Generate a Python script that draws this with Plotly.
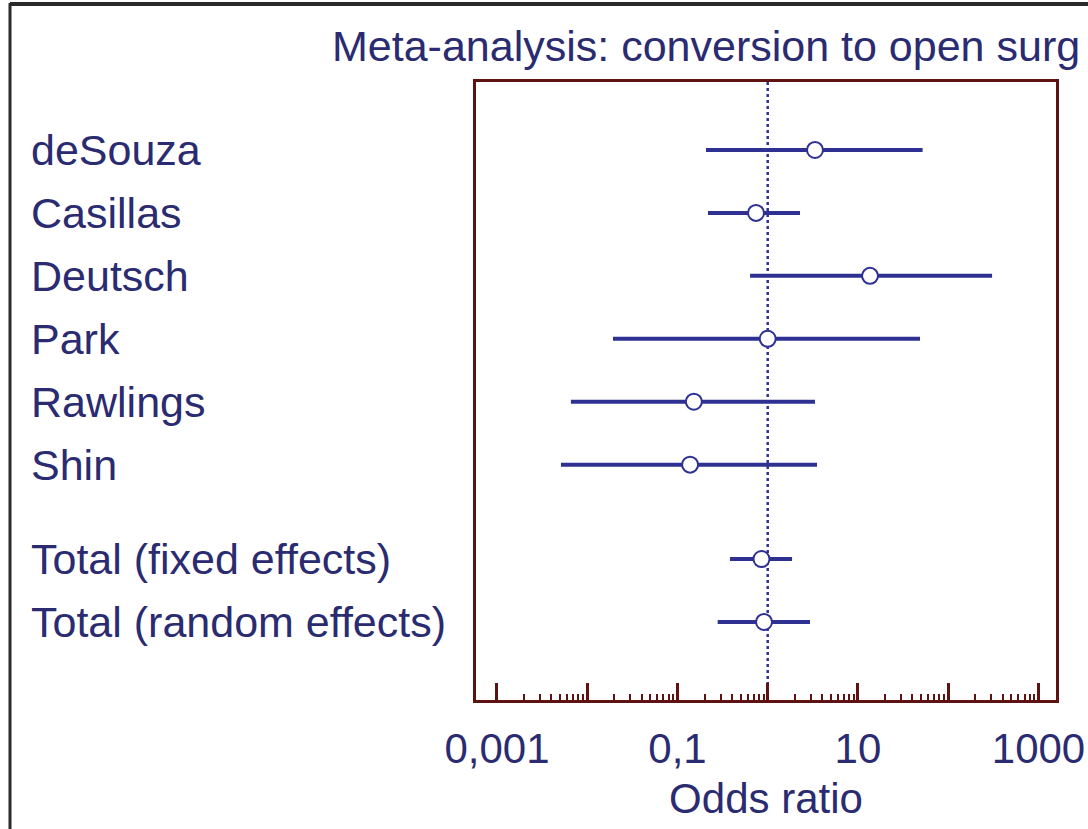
import plotly.graph_objects as go

# ---- data ----
studies = ["deSouza", "Casillas", "Deutsch", "Park", "Rawlings", "Shin",
           "Total (fixed effects)", "Total (random effects)"]
odds_ratio = [3.34, 0.742, 13.6, 1.0, 0.152, 0.138, 0.853, 0.91]
ci_low = [0.207, 0.218, 0.637, 0.0193, 0.0066, 0.00512, 0.382, 0.279]
ci_high = [52.0, 2.28, 306.0, 48.7, 3.34, 3.52, 1.86, 2.94]
tick_values = [0.001, 0.01, 0.1, 1, 10, 100, 1000]
tick_labels = ["0,001", "", "0,1", "", "10", "", "1000"]
null_value = 1
title_text = "Meta-analysis: conversion to open surg"
x_title = "Odds ratio"

# ---- layout constants ----
W, H = 1088, 829
L, R, T, B = 476, 32, 82, 129
PW, PH = W - L - R, H - T - B
BLUE = "#2e3192"
TEXT = "#2a2b70"
FRAME = "#5e1212"
FONT = "Liberation Sans, Arial, sans-serif"

# row positions: studies 1..6, totals after a half-row gap
n_studies = 6
rows = [i + 1 if i < n_studies else i + 1.5 for i in range(len(studies))]
y_top, y_bot = -0.08, 9.74

fig = go.Figure()

# dotted line of no effect
fig.add_trace(go.Scatter(x=[null_value, null_value], y=[y_top, y_bot], mode="lines",
                         line=dict(color=BLUE, width=2.5, dash="dot"),
                         hoverinfo="skip", showlegend=False))

# confidence intervals
xs, ys = [], []
for lo, hi, r in zip(ci_low, ci_high, rows):
    xs += [lo, hi, None]
    ys += [r, r, None]
fig.add_trace(go.Scatter(x=xs, y=ys, mode="lines",
                         line=dict(color=BLUE, width=4),
                         hoverinfo="skip", showlegend=False))

# point estimates
fig.add_trace(go.Scatter(x=odds_ratio, y=rows, mode="markers",
                         marker=dict(symbol="circle", size=16, color="white",
                                     line=dict(color=BLUE, width=2)),
                         text=studies, showlegend=False))

# minor ticks at 2..9 of each decade
minor_vals = [m * d for d in tick_values[:-1] for m in range(2, 10)]

fig.update_xaxes(type="log", range=[-3.232, 3.194],
                 tickmode="array", tickvals=tick_values, ticktext=tick_labels,
                 ticks="inside", ticklen=17, tickwidth=2.5, tickcolor=FRAME,
                 ticklabelstandoff=10,
                 minor=dict(tickmode="array", tickvals=minor_vals, ticks="inside",
                            ticklen=6, tickwidth=2, tickcolor=FRAME, showgrid=False),
                 showgrid=False, zeroline=False,
                 showline=True, linewidth=3, linecolor=FRAME, mirror=True,
                 tickfont=dict(family=FONT, size=42, color=TEXT),
                 title=dict(text=x_title, font=dict(family=FONT, size=42, color=TEXT),
                            standoff=13))
fig.update_yaxes(range=[y_bot, y_top], showticklabels=False, ticks="",
                 showgrid=False, zeroline=False,
                 showline=True, linewidth=3, linecolor=FRAME, mirror=True)

annotations = []
for name, r in zip(studies, rows):
    annotations.append(dict(text=name, xref="paper", yref="y",
                            x=(29 - L) / PW, y=r, xanchor="left", yanchor="middle",
                            showarrow=False,
                            font=dict(family=FONT, size=43, color=TEXT)))
annotations.append(dict(text=title_text, xref="paper", yref="paper",
                        x=(330 - L) / PW, y=1 + (T - 46) / PH,
                        xanchor="left", yanchor="middle", showarrow=False,
                        font=dict(family=FONT, size=43, color=TEXT)))

# outer picture frame (left and top edges)
shapes = [
    dict(type="line", xref="paper", yref="paper",
         x0=(10 - L) / PW, x1=(10 - L) / PW, y0=1 + (T - 3) / PH, y1=-(B) / PH,
         line=dict(color="#2a2a2a", width=3)),
    dict(type="line", xref="paper", yref="paper",
         x0=(10 - L) / PW, x1=(W - L) / PW, y0=1 + (T - 4) / PH, y1=1 + (T - 4) / PH,
         line=dict(color="#2a2a2a", width=4)),
]

fig.update_layout(width=W, height=H, margin=dict(l=L, r=R, t=T, b=B, autoexpand=False),
                  paper_bgcolor="white", plot_bgcolor="white",
                  annotations=annotations, shapes=shapes, showlegend=False)

fig.write_html("out.html", config={"displayModeBar": False},
               post_script="document.body.style.margin='0px';")
